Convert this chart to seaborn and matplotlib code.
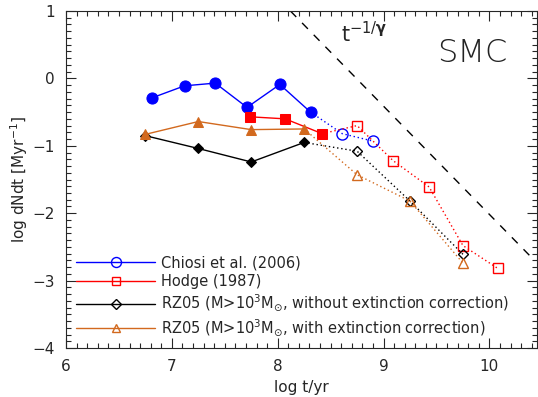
import numpy as np
import matplotlib
matplotlib.use("Agg")
import matplotlib.pyplot as plt
from matplotlib.lines import Line2D
from matplotlib.ticker import MultipleLocator
import seaborn as sns

# -----------------------------------------------------
# Data
# -----------------------------------------------------
chiosi_x = [6.81, 7.12, 7.41, 7.71, 8.02, 8.31]
chiosi_y = [-0.29, -0.11, -0.07, -0.43, -0.09, -0.50]
chiosi_open_x = [8.61, 8.90]
chiosi_open_y = [-0.82, -0.93]

hodge_x = [7.74, 8.07, 8.42]
hodge_y = [-0.57, -0.60, -0.82]
hodge_open_x = [8.75, 9.09, 9.43, 9.75, 10.08]
hodge_open_y = [-0.70, -1.22, -1.61, -2.48, -2.82]

rz_noext_x = [6.75, 7.25, 7.75, 8.25]
rz_noext_y = [-0.85, -1.04, -1.24, -0.95]
rz_noext_open_x = [8.75, 9.25, 9.75]
rz_noext_open_y = [-1.08, -1.82, -2.61]

rz_ext_x = [6.75, 7.25, 7.75, 8.25]
rz_ext_y = [-0.83, -0.64, -0.76, -0.75]
rz_ext_open_x = [8.75, 9.25, 9.75]
rz_ext_open_y = [-1.43, -1.82, -2.74]

# power-law guide line t^(-1/gamma)
guide_x = [8.12, 10.40]
guide_y = [1.0, -2.66]

labels = [
    "Chiosi et al. (2006)",
    "Hodge (1987)",
    r"RZ05 (M>10$^{3}$M$_{\odot}$, without extinction correction)",
    r"RZ05 (M>10$^{3}$M$_{\odot}$, with extinction correction)",
]

# -----------------------------------------------------
# Style
# -----------------------------------------------------
sns.set_style("ticks")
plt.rcParams["font.family"] = ["DejaVu Sans"]
plt.rcParams["mathtext.fontset"] = "dejavusans"

fig = plt.figure(figsize=(5.38, 3.97), dpi=100)
ax = fig.add_axes([0.1227, 0.1234, 0.8755, 0.8489])

orange = "#D2691E"
series = [
    (chiosi_x, chiosi_y, chiosi_open_x, chiosi_open_y, "blue", "o", 8),
    (hodge_x, hodge_y, hodge_open_x, hodge_open_y, "red", "s", 6.5),
    (rz_noext_x, rz_noext_y, rz_noext_open_x, rz_noext_open_y, "black", "D", 5.5),
    (rz_ext_x, rz_ext_y, rz_ext_open_x, rz_ext_open_y, orange, "^", 7),
]

for fx, fy, ox, oy, col, mk, ms in series:
    # filled, solid
    sns.lineplot(x=fx, y=fy, sort=False, color=col, marker=mk, markersize=ms,
                 markeredgecolor=col, linewidth=1, ax=ax)
    # dotted continuation with open markers
    dx = [fx[-1]] + ox
    dy = [fy[-1]] + oy
    sns.lineplot(x=dx, y=dy, sort=False, color=col, linestyle=(0, (1, 2)),
                 linewidth=1, marker=mk, markersize=ms, markerfacecolor="none",
                 markeredgecolor=col, markeredgewidth=1,
                 markevery=list(range(1, len(dx))), ax=ax)

sns.lineplot(x=guide_x, y=guide_y, sort=False, color="black",
             linestyle=(0, (6, 6)), linewidth=1, ax=ax)

ax.text(8.60, 0.66, r"t$^{-1/\mathbf{\gamma}}$", fontsize=15, va="center")
ax.text(9.84, 0.37, "SMC", fontsize=23, ha="center", va="center",
        fontweight="light", color="#222222")

# -----------------------------------------------------
# Axes
# -----------------------------------------------------
ax.set_xlim(6, 10.45)
ax.set_ylim(-4, 1)
ax.xaxis.set_major_locator(MultipleLocator(1))
ax.xaxis.set_minor_locator(MultipleLocator(0.1))
ax.yaxis.set_major_locator(MultipleLocator(1))
ax.yaxis.set_minor_locator(MultipleLocator(0.1))
ax.tick_params(which="both", direction="in", top=True, right=True,
               labelsize=11, width=0.8)
ax.tick_params(which="major", length=7, pad=8)
ax.tick_params(which="minor", length=3.5)
for sp in ax.spines.values():
    sp.set_linewidth(0.8)
ax.set_xlabel("log t/yr", fontsize=11)
ax.set_ylabel(r"log dNdt [Myr$^{-1}$]", fontsize=11, labelpad=2)

handles = [
    Line2D([], [], color=col, marker=mk, markersize=ms * 0.9,
           markerfacecolor="none", markeredgecolor=col, linewidth=1)
    for _, _, _, _, col, mk, ms in series
]
ax.legend(handles, labels, loc="lower left", bbox_to_anchor=(0.0, 0.0),
          frameon=False, fontsize=10.5, handlelength=5.4, handletextpad=0.4,
          labelspacing=0.25, borderpad=0.4, borderaxespad=0.3)

fig.savefig("out.png", dpi=100)
